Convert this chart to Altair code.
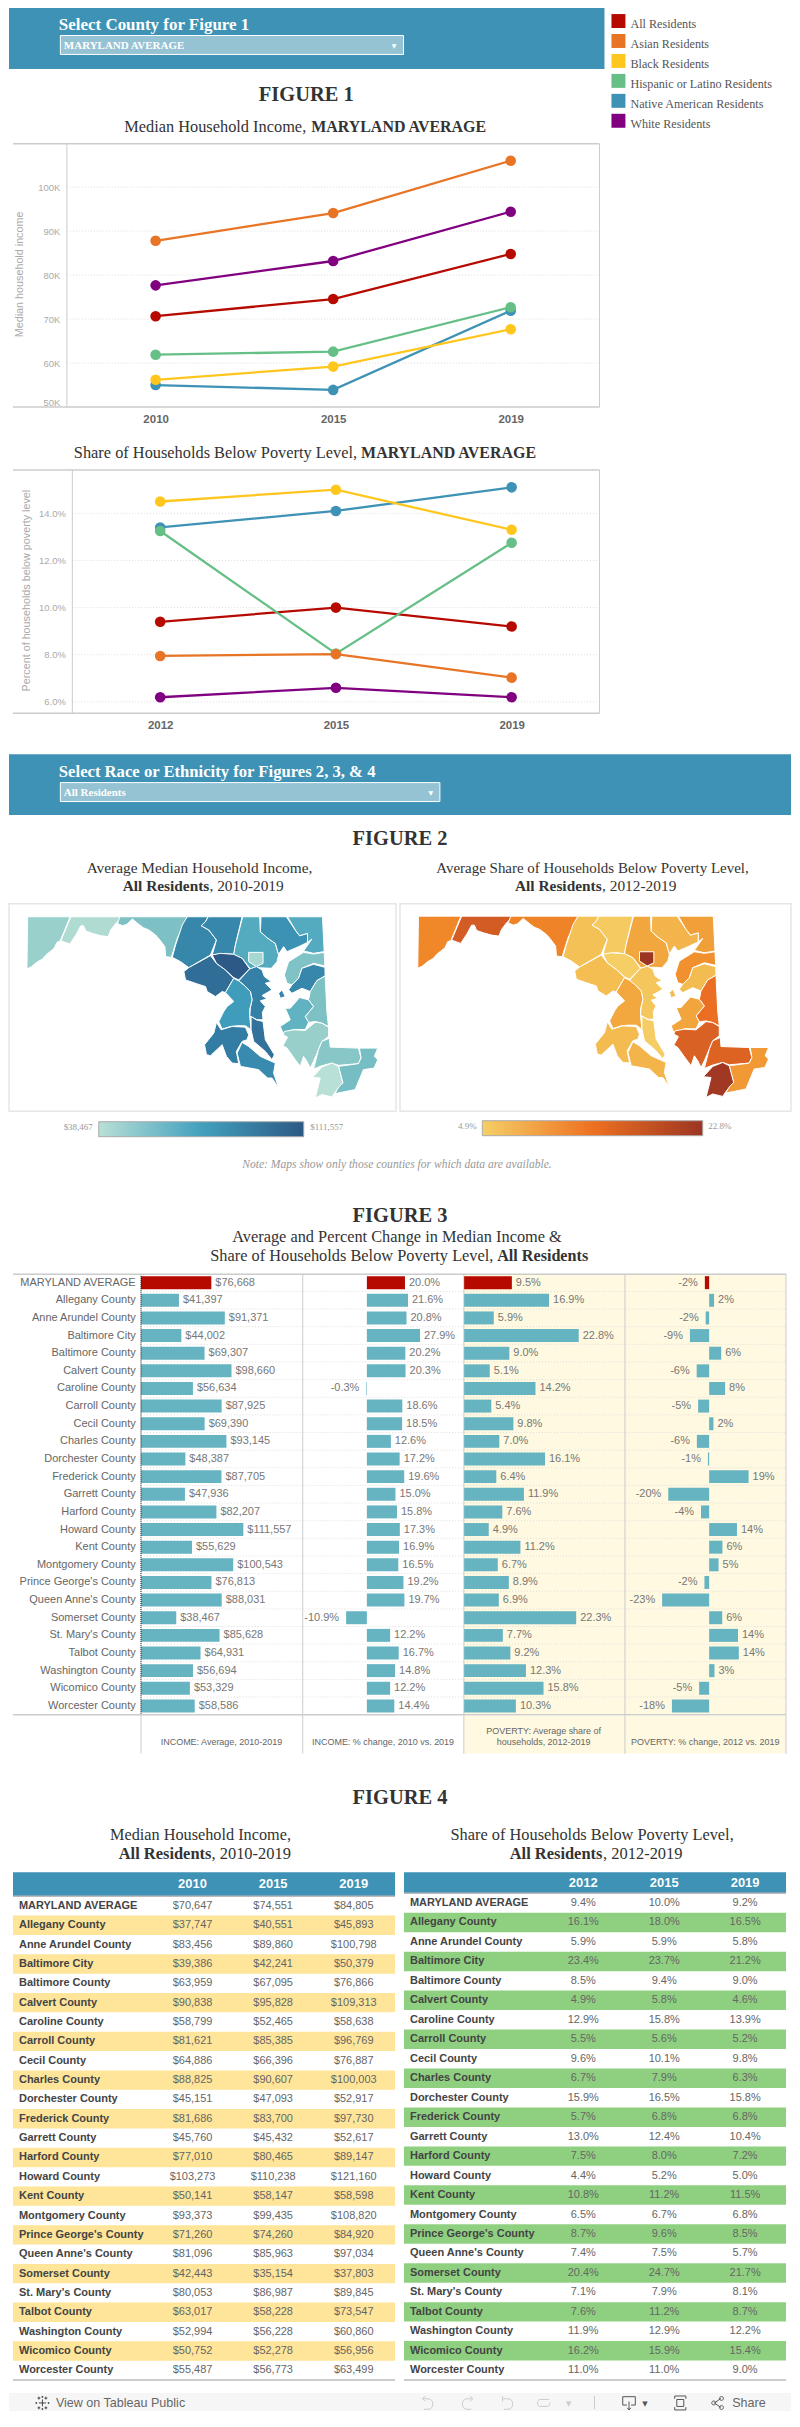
import altair as alt
import pandas as pd

# ---------- data ----------
RACES = ["All Residents", "Asian Residents", "Black Residents", "Hispanic or Latino Residents",
         "Native American Residents", "White Residents"]
RACE_COLORS = ["#b60a00", "#e87426", "#ffc61e", "#66bf86", "#3e92b5", "#800080"]
DRAW_ORDER = ["All Residents", "Native American Residents", "Hispanic or Latino Residents",
              "Asian Residents", "Black Residents", "White Residents"]

INCOME_YEARS = ["2010", "2015", "2019"]
INCOME_BY_RACE = {
    "All Residents": [70647, 74551, 84805],
    "Asian Residents": [87800, 94100, 106000],
    "Black Residents": [56200, 59200, 67700],
    "Hispanic or Latino Residents": [61900, 62600, 72700],
    "Native American Residents": [55000, 53900, 71900],
    "White Residents": [77660, 83200, 94400],
}
POV_YEARS = ["2012", "2015", "2019"]
POV_BY_RACE = {
    "All Residents": [9.4, 10.0, 9.2],
    "Asian Residents": [7.95, 8.03, 7.03],
    "Black Residents": [14.5, 15.0, 13.3],
    "Hispanic or Latino Residents": [13.25, 8.05, 12.75],
    "Native American Residents": [13.4, 14.1, 15.1],
    "White Residents": [6.2, 6.6, 6.2],
}
COUNTIES = ["MARYLAND AVERAGE", "Allegany County", "Anne Arundel County", "Baltimore City", "Baltimore County",
            "Calvert County", "Caroline County", "Carroll County", "Cecil County", "Charles County",
            "Dorchester County", "Frederick County", "Garrett County", "Harford County", "Howard County",
            "Kent County", "Montgomery County", "Prince George's County", "Queen Anne's County", "Somerset County",
            "St. Mary's County", "Talbot County", "Washington County", "Wicomico County", "Worcester County"]
AVG_INCOME = [76668, 41397, 91371, 44002, 69307, 98660, 56634, 87925, 69390, 93145, 48387, 87705, 47936, 82207,
              111557, 55629, 100543, 76813, 88031, 38467, 85628, 64931, 56694, 53329, 58586]
INCOME_CHG = [20.0, 21.6, 20.8, 27.9, 20.2, 20.3, -0.3, 18.6, 18.5, 12.6, 17.2, 19.6, 15.0, 15.8, 17.3, 16.9, 16.5,
              19.2, 19.7, -10.9, 12.2, 16.7, 14.8, 12.2, 14.4]
AVG_POV = [9.5, 16.9, 5.9, 22.8, 9.0, 5.1, 14.2, 5.4, 9.8, 7.0, 16.1, 6.4, 11.9, 7.6, 4.9, 11.2, 6.7, 8.9, 6.9, 22.3,
           7.7, 9.2, 12.3, 15.8, 10.3]
POV_CHG = [-2.1, 2.4, -1.7, -9.4, 5.9, -6.1, 7.8, -5.4, 2.1, -6.0, -0.6, 19.3, -20.0, -4.0, 13.6, 6.5, 4.6, -2.3,
           -23.0, 6.4, 14.1, 14.5, 2.6, -4.9, -18.2]
INCOME_TABLE = [
    [70647, 74551, 84805], [37747, 40551, 45893], [83456, 89860, 100798], [39386, 42241, 50379],
    [63959, 67095, 76866], [90838, 95828, 109313], [58799, 52465, 58638], [81621, 85385, 96769],
    [64886, 66396, 76887], [88825, 90607, 100003], [45151, 47093, 52917], [81686, 83700, 97730],
    [45760, 45432, 52617], [77010, 80465, 89147], [103273, 110238, 121160], [50141, 58147, 58598],
    [93373, 99435, 108820], [71260, 74260, 84920], [81096, 85963, 97034], [42443, 35154, 37803],
    [80053, 86987, 89845], [63017, 58228, 73547], [52994, 56228, 60860], [50752, 52278, 56956],
    [55487, 56773, 63499]]
POV_TABLE = [
    [9.4, 10.0, 9.2], [16.1, 18.0, 16.5], [5.9, 5.9, 5.8], [23.4, 23.7, 21.2], [8.5, 9.4, 9.0], [4.9, 5.8, 4.6],
    [12.9, 15.8, 13.9], [5.5, 5.6, 5.2], [9.6, 10.1, 9.8], [6.7, 7.9, 6.3], [15.9, 16.5, 15.8], [5.7, 6.8, 6.8],
    [13.0, 12.4, 10.4], [7.5, 8.0, 7.2], [4.4, 5.2, 5.0], [10.8, 11.2, 11.5], [6.5, 6.7, 6.8], [8.7, 9.6, 8.5],
    [7.4, 7.5, 5.7], [20.4, 24.7, 21.7], [7.1, 7.9, 8.1], [7.6, 11.2, 8.7], [11.9, 12.9, 12.2], [16.2, 15.9, 15.4],
    [11.0, 11.0, 9.0]]

# County outlines (map units)
COUNTY_SHAPES = {
    "Garrett County": [[(26.7,920),(69.3,920),(59.3,944.3),(56,945.7),(53.3,951.7),(45,958.3),(41.7,962.3),(35.7,965.7),(30.7,970),(26,972.3)]],
    "Allegany County": [[(70,920),(119.3,920),(118.7,923.3),(115,926.7),(110,933.3),(107.3,940),(100,939),(91.7,936.7),(85,934.3),(82.7,929),(80,929),(75,938.3),(69,947.3),(60,944)]],
    "Washington County": [[(119.3,920),(186.7,920),(182.3,930),(176.7,941.7),(170.7,960.7),(165,960),(164.3,950),(159.3,943.3),(155,938.3),(148.3,933.3),(142.7,931),(138.3,927.7),(131.7,922.3),(126,927.7),(121.7,929),(116.7,926.7)]],
    "Frederick County": [[(186.7,920),(207.7,920),(205,925),(200.7,929),(208.3,933.3),(216,943.3),(213.3,950),(210,958.3),(188.3,971),(180,965),(171.7,960.7),(175,948.3),(181.7,928.3)]],
    "Carroll County": [[(207.7,920),(241.7,920),(235,948.3),(233.3,957.7),(225,956.7),(211.7,958.3),(216,943.3),(208.3,933.3),(200.7,929),(205,925)]],
    "Baltimore County": [[(242.3,920),(259.3,920),(260,935),(266.7,941),(275,946.7),(278.3,958.3),(276.7,965),(271,971.7),(255,971),(250,972.3),(241.7,961.7),(233.3,957.7),(235,948.3)]],
    "Baltimore City": [[(248.3,955.7),(262.7,955.7),(262.7,966.7),(256,970),(248.3,965)]],
    "Harford County": [[(260.7,920),(286,920),(295,933.3),(299.3,939),(307.3,936.7),(307.3,945.7),(298.3,950),(286.7,955),(283.3,950),(278.3,957.7),(275,946.7),(266.7,941),(260,935)]],
    "Cecil County": [[(287.3,920),(322.3,920),(324,955),(313.3,956.7),(303.3,954.3),(311.7,942.3),(307.3,945.7),(307.3,936.7),(299.3,939),(295,933.3)]],
    "Kent County": [[(303.3,955.7),(313.3,957.3),(324,955.7),(324.7,969.3),(313.3,966.7),(301.7,971.7),(298.3,981.7),(291.7,988.3),(286.7,986.7),(284,978.3),(288.3,965)]],
    "Queen Anne's County": [[(301.7,971.7),(313.3,967.7),(324.7,970.7),(325,979.3),(316.7,984),(310,995),(301.7,991.7),(291.7,996.7),(288.3,993.3),(291.7,988.3),(298.3,981.7)],
                            [(278.3,996.7),(281.7,993.3),(285,1000),(280,1001.7)]],
    "Caroline County": [[(310,995),(316.7,984),(325,979.3),(326.7,1015),(328.3,1030),(321.7,1026.7),(315,1025),(308.3,1026),(305,1020),(313.3,1010),(308.3,1003.3)]],
    "Talbot County": [[(299.3,1001),(308.3,1003.3),(313.3,1010),(305,1020),(308.3,1026),(305,1033),(293.3,1033),(282.7,1036.7),(280,1030),(290,1023.3),(285,1011.7),(290,1011.7)]],
    "Dorchester County": [[(284,1035),(293.3,1033.3),(305,1034),(315,1025.7),(321.7,1026.7),(328.3,1030.7),(328.3,1040),(321.7,1045),(318.3,1053.3),(313.3,1065),(310,1071.7),(306.7,1065),(303.3,1060),(300,1070),(295,1063.3),(286.7,1051.7),(282.7,1049.3),(287.3,1040.7),(282.7,1038.3)]],
    "Wicomico County": [[(329.3,1041.7),(330,1050.7),(358.3,1051.7),(361,1061.7),(358.3,1067.3),(338.3,1069),(331.7,1066.7),(321.7,1069.3),(313.3,1072.7),(318.3,1053.3),(321.7,1045)]],
    "Worcester County": [[(359.3,1051.7),(377.7,1051.7),(374.3,1060),(377.7,1063.3),(374,1071.7),(363.3,1073.3),(355,1093.3),(335,1097.3),(339.3,1088.3),(342.7,1086.7),(338.3,1070),(358.3,1067.3),(361,1061.7)]],
    "Somerset County": [[(312.3,1081),(321.7,1070.7),(331.7,1066.7),(338.3,1070),(342.7,1086.7),(339.3,1090),(334,1097.3),(331.7,1100.7),(321.7,1098.3),(315,1101.7),(320,1081.7)]],
    "Montgomery County": [[(183.3,975),(188.3,971),(210,959),(216,966.7),(225,973.3),(233.3,981.7),(225,996),(221.7,995),(215,1000),(206.7,995),(205,990),(196.7,987.3),(185,983.3)]],
    "Howard County": [[(211.7,958.3),(220,956.7),(233.3,957.7),(241.7,961.7),(249.3,972.3),(238.3,983.3),(233.3,981),(225,973.3),(216,966.7)]],
    "Anne Arundel County": [[(238.3,984.3),(249.3,972.3),(256,970),(261.7,973.3),(264,980),(271,985),(265,986.7),(271.7,993.3),(261.7,999),(266.7,1002.3),(260,1004.3),(265,1010),(262,1016),(262.7,1023.3),(256.7,1023.3),(249.3,1019.3),(250,1011),(251.7,1003.3),(250,995),(243.3,988.3)]],
    "Prince George's County": [[(233.3,981.7),(238.3,984.3),(243.3,988.3),(250,995),(251.7,1003.3),(249.3,1013),(249.3,1019.3),(250.7,1033.3),(245,1029.3),(236.7,1029.3),(230,1030),(221.7,1032.7),(218.3,1025),(223.3,1015),(226.7,1010),(233.3,1005),(225,996)]],
    "Charles County": [[(216,1026),(220.7,1033.3),(231.7,1030),(245,1030.7),(248.3,1038.3),(246.7,1043.3),(241.7,1045),(236,1055),(238.3,1067.3),(231.7,1066.7),(226,1060),(221.7,1048.3),(210,1059.3),(206,1058.3),(204,1048.3),(213.3,1036.7)]],
    "St. Mary's County": [[(241.7,1046),(248.3,1050),(260,1060),(275,1066.7),(273.3,1076.7),(278.3,1091.7),(271.7,1081.7),(267.3,1081.7),(258.3,1073.3),(240,1070),(236.7,1056.7)]],
    "Calvert County": [[(250.7,1020),(255.7,1023.3),(262.7,1025),(265,1043.3),(274,1058.3),(271.7,1063.3),(265,1055),(253.3,1045),(250.7,1033.3)]],
}
RIGHT_MAP_SHIFT = (391.8, -0.6)

# ---------- style ----------
SERIF = "Liberation Serif"
SANS = "Liberation Sans"
BLUE = "#3e92b5"
DROP = "#96c3d4"
CREAM = "#fef9e0"
LINE = "#cccccc"
ONE = alt.Data(values=[{"k": 0}])


def T(px, py, s, o, size=16, font=SERIF, bold=False, italic=False, color="#333333", align="left", angle=None):
    kw = dict(font=font, fontSize=size, color=color, align=align, baseline="alphabetic")
    if bold:
        kw["fontWeight"] = "bold"
    if italic:
        kw["fontStyle"] = "italic"
    if angle is not None:
        kw["angle"] = angle
    return alt.Chart(ONE).mark_text(**kw).encode(x=alt.value(px - 8), y=alt.value(py - o), text=alt.value(s))


def B(x1, y1, x2, y2, o, fill, stroke=None, sw=1):
    kw = dict(fill=fill, opacity=1)
    if stroke:
        kw.update(stroke=stroke, strokeWidth=sw)
    return alt.Chart(ONE).mark_rect(**kw).encode(
        x=alt.value(x1 - 8), x2=alt.value(x2 - 8), y=alt.value(y1 - o), y2=alt.value(y2 - o))


def H(x1, x2, y, o, color=LINE, w=1.5):
    return alt.Chart(ONE).mark_rule(color=color, strokeWidth=w).encode(
        x=alt.value(x1 - 8), x2=alt.value(x2 - 8), y=alt.value(y - o))


def V(x, y1, y2, o, color=LINE, w=1, dash=None):
    kw = dict(color=color, strokeWidth=w)
    if dash:
        kw["strokeDash"] = dash
    return alt.Chart(ONE).mark_rule(**kw).encode(
        x=alt.value(x - 8), y=alt.value(y1 - o), y2=alt.value(y2 - o))


def I(px, py, path, o, r, color="#cccccc", w=1):
    return alt.Chart(ONE).mark_point(shape=path, size=(2 * r) ** 2, filled=False, stroke=color, strokeWidth=w,
                                     opacity=1).encode(x=alt.value(px - 8), y=alt.value(py - o))


def panel(layers, h, w=784):
    return alt.layer(*layers).properties(width=w, height=h)


def grad(stops):
    return alt.Gradient(gradient="linear", x1=0, x2=1, y1=0, y2=0,
                        stops=[alt.GradientStop(color=c, offset=f) for f, c in stops])


# ---------- Panel A : header, legend, figure 1 title ----------
o = 8
leg = pd.DataFrame({"race": RACES})
leg_y = alt.Y("race:N", scale=alt.Scale(type="band", domain=RACES, range=[7, 121], paddingInner=0.3, paddingOuter=0),
              axis=None)
A = panel([
    B(8, 8, 605, 70, o, BLUE),
    T(58, 31, "Select County for Figure 1", o, 17, bold=True, color="white"),
    B(59.5, 36.5, 403.5, 55.5, o, DROP, "white", 1),
    T(63, 50, "MARYLAND AVERAGE", o, 11, bold=True, color="white"),
    T(394, 49, "▼", o, 6, font="DejaVu Sans", color="white", align="center"),
    alt.Chart(leg).mark_rect().encode(
        x=alt.value(604), x2=alt.value(618), y=leg_y,
        color=alt.Color("race:N", scale=alt.Scale(domain=RACES, range=RACE_COLORS), legend=None)),
    alt.Chart(leg).mark_text(font=SERIF, fontSize=12.2, color="#555555", align="left", baseline="alphabetic", dy=7).encode(
        x=alt.value(623), y=leg_y, text="race:N"),
    T(306, 102, "FIGURE 1", o, 20.5, bold=True, align="center"),
    T(123.5, 133, "Median Household Income, ", o, 16.4),
    T(311, 133, "MARYLAND AVERAGE", o, 16, bold=True),
], 137)


# ---------- line panels ----------
def line_panel(o, h, px1, years, series, domain, ticks, label_expr, ytitle, title_x, title_y):
    rows = [{"race": r, "year": y, "value": v}
            for r in DRAW_ORDER for y, v in zip(years, series[r])]
    df = pd.DataFrame(rows)
    x = alt.X("year:O", scale=alt.Scale(type="point", domain=years, range=[px1 - 8, 592], padding=0.5),
              axis=alt.Axis(title=None, labelAngle=0, domain=False, ticks=False, grid=False, labelFont=SANS,
                            labelFontSize=11.5, labelFontWeight="bold", labelColor="#666666", labelPadding=6))
    y = alt.Y("value:Q", scale=alt.Scale(domain=domain, nice=False, zero=False),
              axis=alt.Axis(title=None, values=ticks, labelExpr=label_expr, offset=-(px1 - 8), domain=False,
                            ticks=False, grid=False, labelFont=SANS, labelFontSize=9.5, labelColor="#aaaaaa",
                            labelPadding=7, labelFlush=True))
    c = alt.Color("race:N", scale=alt.Scale(domain=RACES, range=RACE_COLORS), legend=None)
    grid = alt.Chart(pd.DataFrame({"value": ticks})).mark_rule(color="#dddddd", strokeDash=[1, 2], strokeWidth=1).encode(
        y=alt.Y("value:Q", scale=alt.Scale(domain=domain, nice=False, zero=False)),
        x=alt.value(px1 - 8), x2=alt.value(592))
    line = alt.Chart(df).mark_line(strokeWidth=2.3).encode(x=x, y=y, color=c, detail="race:N")
    dots = alt.Chart(df).mark_circle(size=113, opacity=1).encode(x=x, y=y, color=c)
    return panel([
        grid,
        H(12, 600, o, o), H(12, 600, o + h, o), V(px1, o, o + h, o), V(600, o, o + h, o),
        line, dots,
        T(title_x, title_y, ytitle, o, 10.8, font=SANS, color="#aaaaaa", align="center", angle=270),
    ], h)


Bp = line_panel(145, 264, 66, INCOME_YEARS, INCOME_BY_RACE, [50000, 109860],
                [50000, 60000, 70000, 80000, 90000, 100000], "datum.value/1000 + 'K'",
                "Median household income", 22, 276)
C = panel([
    T(73, 460, "Share of Households Below Poverty Level, ", 409, 16.4),
    T(361, 460, "MARYLAND AVERAGE", 409, 16, bold=True),
], 63)
D = line_panel(472, 244, 71.5, POV_YEARS, POV_BY_RACE, [5.52, 15.84],
               [6, 8, 10, 12, 14], "format(datum.value, '.1f') + '%'",
               "Percent of households below poverty level", 29, 593)

# ---------- Panel E : second band, figure 2 titles ----------
o = 716
E = panel([
    B(8, 757, 792, 818, o, BLUE),
    T(58, 780, "Select Race or Ethnicity for Figures 2, 3, & 4", o, 16.7, bold=True, color="white"),
    B(59.5, 785.5, 440, 804.5, o, DROP, "white", 1),
    T(63, 799, "All Residents", o, 11, bold=True, color="white"),
    T(431, 798, "▼", o, 6, font="DejaVu Sans", color="white", align="center"),
    T(400, 848, "FIGURE 2", o, 20.5, bold=True, align="center"),
    T(199, 876, "Average Median Household Income,", o, 15.4, align="center"),
    T(122, 894, "All Residents", o, 15.4, bold=True),
    T(209, 894, ", 2010-2019", o, 15.4),
    T(593, 876, "Average Share of Households Below Poverty Level,", o, 15, align="center"),
    T(515.3, 894, "All Residents", o, 15.4, bold=True),
    T(602.6, 894, ", 2012-2019", o, 15.4),
], 191)


# ---------- Panel F : maps ----------
def features(values, dx=0, dy=0):
    out = []
    lookup = dict(zip(COUNTIES, values))
    for name, rings in COUNTY_SHAPES.items():
        polys = [[[[x + dx, y + dy] for x, y in ring + [ring[0]]]] for ring in rings]
        out.append({"type": "Feature", "geometry": {"type": "MultiPolygon", "coordinates": polys},
                    "properties": {"name": name, "v": lookup[name]}})
    return out


o = 907
proj = dict(type="identity", scale=1, translate=[-8, -o])
map_l = alt.Chart(alt.Data(values=features(AVG_INCOME))).mark_geoshape(stroke="white", strokeWidth=1).encode(
    color=alt.Color("properties.v:Q", legend=None,
                    scale=alt.Scale(domain=[38467, 75012, 111557], range=["#b8e0d6", "#42a0bd", "#2c5985"]))
).project(**proj)
map_r = alt.Chart(alt.Data(values=features(AVG_POV, *RIGHT_MAP_SHIFT))).mark_geoshape(stroke="white", strokeWidth=1).encode(
    color=alt.Color("properties.v:Q", legend=None,
                    scale=alt.Scale(domain=[4.9, 13.85, 22.8], range=["#f5cf66", "#ee7121", "#9c3522"]))
).project(**proj)
F = alt.layer(
    B(8, 907, 396, 1115, o, "white", "#e6e6e6", 1.5),
    B(400, 907, 792, 1115, o, "white", "#e6e6e6", 1.5),
    map_l, map_r,
    B(98, 1125.5, 303.5, 1140.5, o, grad([(0, "#b8e0d6"), (0.5, "#42a0bd"), (1, "#2c5985")]), "#aaaaaa", 1),
    B(482.5, 1124.5, 703.5, 1139.5, o, grad([(0, "#f5cf66"), (0.5, "#ee7121"), (1, "#9c3522")]), "#aaaaaa", 1),
    T(92, 1134, "$38,467", o, 9, color="#999999", align="right"),
    T(310, 1134, "$111,557", o, 9, color="#999999"),
    T(477, 1133, "4.9%", o, 9, color="#999999", align="right"),
    T(709, 1133, "22.8%", o, 9, color="#999999"),
    T(397, 1172, "Note: Maps show only those counties for which data are available.", o, 11.6, italic=True,
      color="#999999", align="center"),
    T(400, 1226, "FIGURE 3", o, 20.5, bold=True, align="center"),
    T(397, 1246, "Average and Percent Change in Median Income &", o, 16.4, align="center"),
    T(209.7, 1265, "Share of Households Below Poverty Level, ", o, 16.4),
    T(497.4, 1265, "All Residents", o, 16.2, bold=True),
).resolve_scale(color="independent").properties(width=784, height=371)

# ---------- Panel G : figure 3 bars ----------
o = 1278
fig3 = pd.DataFrame({
    "county": COUNTIES,
    "income": AVG_INCOME, "income_label": [f"${v:,}" for v in AVG_INCOME],
    "ichg": INCOME_CHG, "ichg_label": [f"{v:.1f}%" for v in INCOME_CHG],
    "pov": AVG_POV, "pov_label": [f"{v:.1f}%" for v in AVG_POV],
    "pchg": POV_CHG, "pchg_label": [f"{round(v)}%" for v in POV_CHG],
})
y_scale3 = alt.Scale(type="band", domain=COUNTIES, paddingInner=0.265, paddingOuter=0.1325)
y_plain = alt.Y("county:N", scale=y_scale3, axis=None)


def bar_col(field, label, rng, dom):
    x = alt.X(f"{field}:Q", scale=alt.Scale(domain=dom, range=rng, nice=False, zero=False), axis=None)
    bars = alt.Chart(fig3).mark_bar().encode(
        x=x, y=y_plain,
        color=alt.condition(alt.datum.county == "MARYLAND AVERAGE", alt.value("#b60a00"), alt.value("#66b3c2")))
    base = dict(font=SANS, fontSize=11, color="#777777", baseline="middle")
    pos = alt.Chart(fig3).transform_filter(f"datum.{field} >= 0").mark_text(align="left", dx=4, **base).encode(
        x=x, y=y_plain, text=f"{label}:N")
    neg = alt.Chart(fig3).transform_filter(f"datum.{field} < 0").mark_text(align="right", dx=-7, **base).encode(
        x=x, y=y_plain, text=f"{label}:N")
    return alt.layer(bars, pos, neg)


seps = alt.Chart(pd.DataFrame({"county": COUNTIES[:-1]})).mark_rule(
    color="#dddddd", strokeDash=[1, 2], strokeWidth=1, yOffset=2.3
).encode(y=alt.Y("county:N", scale=y_scale3, axis=None, bandPosition=1), x=alt.value(132.3), x2=alt.value(779))
row_names = alt.Chart(pd.DataFrame({"county": COUNTIES})).mark_text(
    font=SANS, fontSize=11, color="#666666", align="right", baseline="middle"
).encode(x=alt.value(127), y=y_plain, text="county:N")

G = alt.layer(
    B(464, 1278, 787, 1720, o, CREAM),
    seps,
    row_names,
    V(302.5, 1278, 1720, o), V(464, 1278, 1720, o), V(625.5, 1278, 1720, o), V(787, 1278, 1720, o),
    bar_col("income", "income_label", [132.3, 294.5], [0, 176300]),
    bar_col("ichg", "ichg_label", [294.5, 456], [-33.66, 50.9]),
    bar_col("pov", "pov_label", [456.3, 617.5], [0, 32]),
    bar_col("pchg", "pchg_label", [617.5, 779], [-41.2, 37.6]),
    V(140.3, 1278, 1720, o, color="#111111", dash=[1, 1]),
    H(12, 787, 1278.3, o), H(12, 787, 1720, o),
).resolve_scale(x="independent").properties(width=784, height=442)

# ---------- Panel H : footer, figure 4 titles ----------
o = 1720
Hp = panel([
    B(464, 1721, 787, 1759, o, CREAM),
    V(140.3, 1720, 1759, o), V(302.5, 1720, 1759, o), V(464, 1720, 1759, o), V(625.5, 1720, 1759, o),
    V(787, 1720, 1759, o),
    T(221, 1750, "INCOME: Average, 2010-2019", o, 9, font=SANS, color="#666666", align="center"),
    T(383, 1750, "INCOME: % change, 2010 vs. 2019", o, 9, font=SANS, color="#666666", align="center"),
    T(544, 1739, "POVERTY: Average share of", o, 9, font=SANS, color="#666666", align="center"),
    T(544, 1750, "households, 2012-2019", o, 9, font=SANS, color="#666666", align="center"),
    T(706, 1750, "POVERTY: % change, 2012 vs. 2019", o, 9, font=SANS, color="#666666", align="center"),
    T(400, 1810, "FIGURE 4", o, 20.5, bold=True, align="center"),
    T(200, 1846, "Median Household Income,", o, 16.3, align="center"),
    T(118, 1865, "All Residents", o, 16.5, bold=True),
    T(211, 1865, ", 2010-2019", o, 16.5),
    T(592.6, 1846, "Share of Households Below Poverty Level,", o, 16.4, align="center"),
    T(510, 1865, "All Residents", o, 16.5, bold=True),
    T(603.6, 1865, ", 2012-2019", o, 16.5),
], 158)

# ---------- Panel I : figure 4 tables ----------
o = 1878


def table(table_rows, years, fmt, xl, xr, header_bottom, band_color, c1, c3):
    y = alt.Y("county:N", scale=alt.Scale(type="band", domain=COUNTIES, range=[header_bottom - o, 2387 - o],
                                          paddingInner=0, paddingOuter=0), axis=None)
    x = alt.X("year:N", scale=alt.Scale(type="point", domain=years, range=[c1 - 8, c3 - 8], padding=0), axis=None)
    cells = pd.DataFrame([{"county": c, "year": yr, "text": fmt(v)}
                          for c, row in zip(COUNTIES, table_rows) for yr, v in zip(years, row)])
    names = pd.DataFrame({"county": COUNTIES})
    stripe = pd.DataFrame({"county": COUNTIES[1::2]})
    return alt.layer(
        B(xl, 1878, xr, header_bottom, o, BLUE),
        H(xl, xr, header_bottom, o, color="#bbbbbb", w=1.5),
        alt.Chart(stripe).mark_rect(fill=band_color, opacity=1).encode(
            x=alt.value(xl - 8), x2=alt.value(xr - 8), y=y),
        alt.Chart(pd.DataFrame({"year": years})).mark_text(
            font=SANS, fontSize=13, fontWeight="bold", color="white", baseline="middle").encode(
            x=x, y=alt.value((header_bottom - 2 - o) / 2 + 1), text="year:N"),
        alt.Chart(names).mark_text(font=SANS, fontSize=11, fontWeight="bold", color="#444444", align="left",
                                   baseline="middle").encode(x=alt.value(xl + 6 - 8), y=y, text="county:N"),
        alt.Chart(cells).mark_text(font=SANS, fontSize=11, color="#666666", baseline="middle").encode(
            x=x, y=y, text="text:N"),
        H(xl, xr, 2387, o, color="#bbbbbb", w=1.5),
    )


Ip = alt.layer(
    table(INCOME_TABLE, INCOME_YEARS, lambda v: f"${v:,}", 12, 395, 1902, "#fee599", 192, 353.6),
    table(POV_TABLE, POV_YEARS, lambda v: f"{v:.1f}%", 404, 787, 1899, "#8fd080", 583.7, 746),
).resolve_scale(x="independent", y="independent").properties(width=784, height=522)

# ---------- Panel J : toolbar ----------
o = 2400
UNDO = "M-0.7,-0.6 L0.1,-0.6 C1,-0.6 1,0.9 0.1,0.9 L-0.5,0.9 M-0.3,-1 L-0.7,-0.6 L-0.3,-0.2"
REDO = "M0.7,-0.6 L-0.1,-0.6 C-1,-0.6 -1,0.9 -0.1,0.9 L0.5,0.9 M0.3,-1 L0.7,-0.6 L0.3,-0.2"
REVERT = "M-0.7,-1 L-0.7,-0.2 M-0.7,-0.6 L0.1,-0.6 C1,-0.6 1,0.9 0.1,0.9 L-0.5,0.9"
REFRESH = "M0.8,-0.5 L-0.5,-0.5 C-1,-0.5 -1,0.5 -0.5,0.5 L0.5,0.5 C0.9,0.5 0.9,0.1 0.9,-0.1"
DOWN = "M-0.3,0.3 L-0.9,0.3 L-0.9,-0.9 L0.9,-0.9 L0.9,0.3 L0.3,0.3 M0,-0.2 L0,1 M-0.25,0.7 L0,1 L0.25,0.7"
FULL = "M-0.5,-0.5 H0.5 V0.5 H-0.5 Z M-0.8,-0.6 V-1 H0.8 V-0.6 M-0.8,0.6 V1 H0.8 V0.6"
SHARE = "M-0.5,0 L0.5,-0.7 M-0.5,0 L0.5,0.7 M-0.9,0 A0.3,0.3 0 1 0 -0.3,0 A0.3,0.3 0 1 0 -0.9,0 " \
        "M0.3,-0.7 A0.3,0.3 0 1 0 0.9,-0.7 A0.3,0.3 0 1 0 0.3,-0.7 M0.3,0.7 A0.3,0.3 0 1 0 0.9,0.7 A0.3,0.3 0 1 0 0.3,0.7"
TAB = "M0,-0.5V0.5M-0.5,0H0.5M-.5,-.9V-.5M-.7,-.7H-.3M.5,-.9V-.5M.3,-.7H.7M-.5,.5V.9M-.7,.7H-.3M.5,.5V.9M.3,.7H.7" \
      "M0,-1V-.75M-.12,-.87H.12M0,.75V1M-.12,.87H.12M-1,0H-.75M-.87,-.12V.12M.75,0H1M.87,-.12V.12"
J = panel([
    B(8, 2400, 792, 2418, o, "#f6f6f6"),
    I(41.5, 2410, TAB, o, 7, "#444444"),
    T(55, 2414, "View on Tableau Public", o, 12.6, font=SANS, color="#666666"),
    I(427.5, 2410, UNDO, o, 7), I(468, 2410, REDO, o, 7), I(507.6, 2410, REVERT, o, 7), I(544, 2410, REFRESH, o, 7),
    T(569, 2413, "▼", o, 7, font="DejaVu Sans", color="#cccccc", align="center"),
    V(595, 2403, 2416, o, color="#cccccc"),
    I(629.6, 2410, DOWN, o, 7, "#555555"),
    T(645.5, 2413, "▼", o, 7, font="DejaVu Sans", color="#555555", align="center"),
    I(681, 2410, FULL, o, 7, "#555555"),
    I(718.4, 2410, SHARE, o, 6.5, "#555555"),
    T(733, 2414, "Share", o, 12.6, font=SANS, color="#666666"),
], 18, 784)

chart = alt.vconcat(A, Bp, C, D, E, F, G, Hp, Ip, J, spacing=0, bounds="flush").configure_view(
    stroke=None).properties(padding={"left": 0, "top": -4, "right": 0, "bottom": 0})
chart.save("out.html", embed_options={"renderer": "svg", "actions": False})
